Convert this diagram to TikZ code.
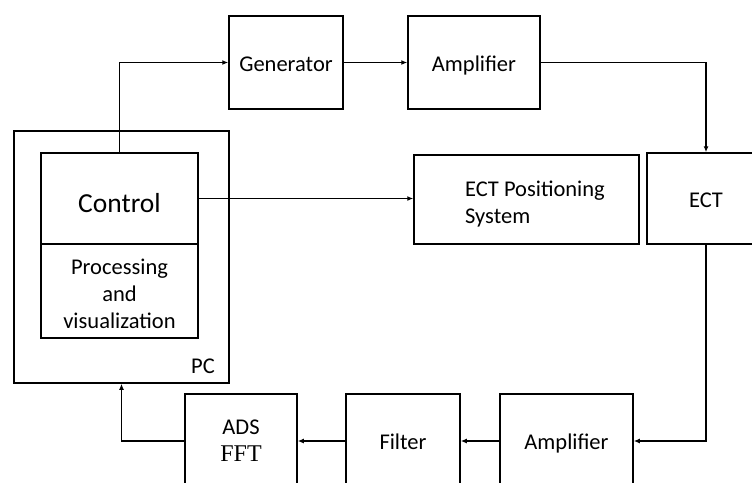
\documentclass[tikz,border=0pt]{standalone}
\usepackage{fontspec}
\setmainfont{Carlito}
\newfontfamily\fftfont{Liberation Serif}
\usetikzlibrary{positioning,calc,arrows,arrows.meta}
\tikzset{
	font=\fontsize{22.5}{27}\selectfont,
	block/.style={draw, line width=1.5pt, inner sep=0pt, align=center},
	oneline/.style={text height=21pt, text depth=4pt},
	link/.style={line width=1.5pt, -{Latex[length=6pt,width=5pt]}},
}

\begin{document}
\begin{tikzpicture}[x=1pt, y={(0pt,-1pt)}]
	\useasboundingbox (0,0) rectangle (752,482);
	\begin{scope}
		% top row
		\node[block, oneline, minimum width=114, minimum height=93] (gen) at (286, 62.5) {Generator};
		\node[block, oneline, minimum width=132, minimum height=93] (amp1) at (474, 62.5) {Amplifier};

		% PC with control and processing
		\node[block, minimum width=215, minimum height=252] (pc) at (121.5, 257) {};
		\node (pclabel) at (203, 366) {PC};
		\node[block, text height=32pt, text depth=5pt, minimum width=157, minimum height=91] (ctrl) at (119.5, 198.5) {\fontsize{27.5}{33}\selectfont Control};
		\node[block, minimum width=157, minimum height=94] (proc) at (119.5, 291) {};
		\node[align=center] (proctxt) at (119.5, 294) {Processing\\and\\visualization};

		% middle row
		\node[block, minimum width=225, minimum height=89] (ectpos) at (526.5, 199.5) {};
		\node[align=left] (ectpostxt) at (535, 204) {ECT Positioning\\System};
		\node[block, oneline, minimum width=118, minimum height=91] (ect) at (706, 198.5) {ECT};

		% bottom row
		\node[block, minimum width=112, minimum height=94] (ads) at (241, 441) {ADS\\{\fftfont\fontsize{24}{27}\selectfont FFT}};
		\node[block, oneline, minimum width=114, minimum height=94] (filter) at (403, 441) {Filter};
		\node[block, oneline, minimum width=133, minimum height=94] (amp2) at (566.5, 441) {Amplifier};

		\draw[link] (ctrl.north) |- (gen.west);
		\draw[link] (gen.east) -- (amp1.west);
		\draw[link] (amp1.east) -| (ect.north);
		\draw[link] (ctrl.east) -- (ctrl.east -| ectpos.west);
		\draw[link] (ect.south) |- (amp2.east);
		\draw[link] (amp2.west) -- (filter.east);
		\draw[link] (filter.west) -- (ads.east);
		\draw[link] (ads.west) -| (pc.south);
	\end{scope}
\end{tikzpicture}
\end{document}
